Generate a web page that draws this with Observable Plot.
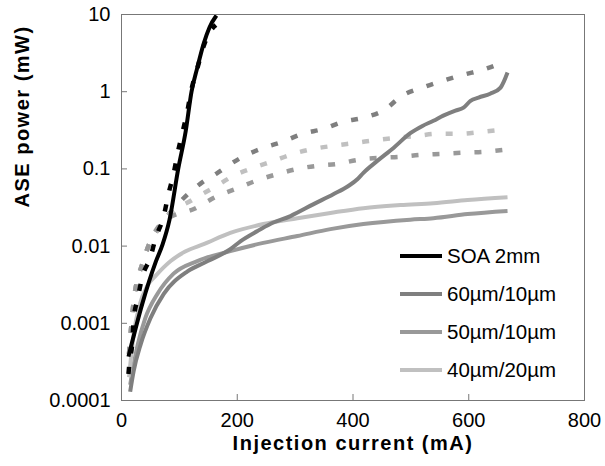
<!DOCTYPE html>
<html><head><meta charset="utf-8">
<script src="https://cdn.jsdelivr.net/npm/d3@7"></script>
<script src="https://cdn.jsdelivr.net/npm/@observablehq/plot@0.6"></script>
<style>
body{margin:0;background:#fff;font-family:"Liberation Sans",Arial,sans-serif;}
#wrap{position:relative;width:605px;height:466px;}
#legend{position:absolute;left:400px;top:237px;font-size:20.5px;color:#000;}
.row{display:flex;align-items:center;height:38px;white-space:nowrap;}
.sw{width:42px;height:4px;margin-right:5px;}
.ttl text{letter-spacing:1.5px;}
</style></head><body><div id="wrap"></div>
<script>
// ---- data ----
const seriesNames = ["SOA 2mm", "60µm/10µm", "50µm/10µm", "40µm/20µm"];
const seriesColors = ["#000000", "#7f7f7f", "#999999", "#c0c0c0"];
const xTicks = [0, 200, 400, 600, 800];
const yTicks = [0.0001, 0.001, 0.01, 0.1, 1, 10];
const xTitle = "Injection current (mA)";
const yTitle = "ASE power (mW)";

// solid curves
const soaI = [12, 36, 59, 71, 83, 98, 111, 121, 131, 142, 152, 164];
const soaP = [0.00037, 0.0018, 0.0062, 0.0105, 0.022, 0.1, 0.31, 1.0, 2.05, 4.2, 6.8, 9.7];
const w60I = [15, 21, 33, 50, 73, 114, 149, 188, 206, 235, 257, 292, 332, 366, 392, 408, 418, 442, 470, 499, 520, 539, 556, 577, 591, 603, 617, 637, 655, 667];
const w60P = [0.00013, 0.00024, 0.00053, 0.00116, 0.0024, 0.0047, 0.0064, 0.0091, 0.0116, 0.0157, 0.0193, 0.0245, 0.035, 0.047, 0.06, 0.074, 0.089, 0.127, 0.187, 0.29, 0.36, 0.42, 0.49, 0.57, 0.62, 0.76, 0.84, 0.94, 1.13, 1.77];
const w50I = [15, 19, 28, 41, 62, 90, 131, 188, 245, 304, 361, 418, 499, 539, 598, 667];
const w50P = [0.00016, 0.00024, 0.00053, 0.00116, 0.0024, 0.0044, 0.0064, 0.0086, 0.011, 0.0135, 0.0166, 0.0193, 0.022, 0.023, 0.026, 0.0285];
const w40I = [13, 17, 22, 30, 45, 60, 85, 110, 142, 188, 245, 304, 361, 418, 482, 539, 598, 667];
const w40P = [0.0002, 0.0004, 0.0008, 0.0016, 0.0031, 0.0042, 0.0064, 0.0085, 0.0106, 0.0148, 0.0193, 0.023, 0.0269, 0.031, 0.034, 0.036, 0.0395, 0.043];

// dashed curves
const soaDI = [12, 14, 19, 21, 28, 36, 50, 59, 73, 81, 90, 97, 105, 114, 120, 131, 142, 153, 163];
const soaDP = [0.00022, 0.00032, 0.0006, 0.0011, 0.0021, 0.004, 0.0072, 0.0127, 0.0245, 0.047, 0.086, 0.16, 0.29, 0.57, 1.0, 2.0, 3.9, 6.0, 7.3];
const w60DI = [13, 21, 38, 73, 102, 136, 166, 206, 245, 278, 313, 349, 384, 418, 454, 485, 520, 556, 591, 625, 665];
const w60DP = [0.0004, 0.0019, 0.0065, 0.021, 0.038, 0.064, 0.089, 0.139, 0.187, 0.224, 0.285, 0.33, 0.41, 0.46, 0.58, 0.89, 1.13, 1.39, 1.66, 1.93, 2.5];
const w50DI = [13, 21, 38, 73, 128, 162, 197, 232, 270, 304, 339, 373, 409, 446, 480, 517, 555, 589, 625, 662];
const w50DP = [0.0004, 0.0019, 0.0065, 0.021, 0.031, 0.043, 0.055, 0.07, 0.086, 0.1, 0.11, 0.116, 0.131, 0.139, 0.143, 0.152, 0.157, 0.162, 0.166, 0.177];
const w40DI = [13, 21, 38, 73, 123, 159, 193, 228, 263, 297, 332, 368, 406, 442, 475, 511, 546, 582, 619, 655];
const w40DP = [0.0004, 0.0019, 0.0065, 0.021, 0.04, 0.057, 0.081, 0.103, 0.127, 0.157, 0.182, 0.2, 0.218, 0.238, 0.253, 0.268, 0.285, 0.285, 0.30, 0.32];

// ---- build table ----
const curves = [
  {s: 1, dashed: true, I: w60DI, P: w60DP},
  {s: 3, dashed: true, I: w40DI, P: w40DP},
  {s: 2, dashed: true, I: w50DI, P: w50DP},
  {s: 2, dashed: false, I: w50I, P: w50P},
  {s: 3, dashed: false, I: w40I, P: w40P},
  {s: 1, dashed: false, I: w60I, P: w60P},
  {s: 0, dashed: true, I: soaDI, P: soaDP},
  {s: 0, dashed: false, I: soaI, P: soaP}
];

const lineMarks = curves.map(c => {
  const rows = c.I.map((x, i) => ({x, y: c.P[i]}));
  return Plot.line(rows, {
    x: "x", y: "y",
    stroke: seriesColors[c.s],
    strokeWidth: c.dashed ? 4.5 : 4,
    strokeDasharray: c.dashed ? "7,14" : null,
    strokeLinecap: "butt",
    curve: "monotone-x"
  });
});

const W = 605, H = 466, mT = 14, mR = 21, mB = 66, mL = 121;
const tickLen = 6;

const chart = Plot.plot({
  width: W, height: H,
  marginTop: mT, marginRight: mR, marginBottom: mB, marginLeft: mL,
  style: {fontFamily: "'Liberation Sans', Arial, sans-serif", fontSize: "20px", color: "#000", background: "#fff", overflow: "visible"},
  x: {domain: [0, 800]},
  y: {type: "log", domain: [0.0001, 10]},
  marks: [
    Plot.axisX({ticks: xTicks, tickSize: 0, tickPadding: 12, label: null, tickFormat: d => String(d)}),
    Plot.axisY({ticks: yTicks, tickSize: 0, tickPadding: 11, label: null, tickFormat: d => String(d)}),
    // inward tick marks
    Plot.ruleX(xTicks, {x: d => d, insetTop: H - mT - mB - tickLen, stroke: "#777"}),
    Plot.ruleY(yTicks, {y: d => d, insetRight: W - mL - mR - tickLen, stroke: "#777"}),
    ...lineMarks,
    Plot.frame({stroke: "#777"}),
    Plot.text([xTitle], {text: d => d, frameAnchor: "bottom", dy: 49, fontWeight: "bold", fontSize: 20, className: "ttl"}),
    Plot.text([yTitle], {text: d => d, frameAnchor: "left", dx: -99, rotate: -90, fontWeight: "bold", fontSize: 20, className: "ttl"})
  ]
});

const wrap = document.getElementById("wrap");
wrap.appendChild(chart);

const legend = document.createElement("div");
legend.id = "legend";
seriesNames.forEach((n, i) => {
  const row = document.createElement("div");
  row.className = "row";
  const sw = document.createElement("div");
  sw.className = "sw";
  sw.style.background = seriesColors[i];
  const t = document.createElement("span");
  t.textContent = n;
  row.appendChild(sw); row.appendChild(t);
  legend.appendChild(row);
});
wrap.appendChild(legend);
</script>
</body></html>
